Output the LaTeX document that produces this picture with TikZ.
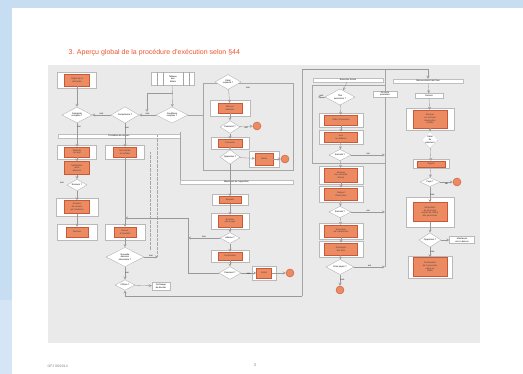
\documentclass[tikz,border=0pt]{standalone}
\usepackage{fontspec}
\setmainfont{Liberation Sans}
\usetikzlibrary{shapes,arrows,positioning}
\definecolor{bgblue}{HTML}{C7DDF1}
\definecolor{panel}{HTML}{EAEAEA}
\definecolor{boxor}{HTML}{EC8A62}
\definecolor{boxline}{HTML}{C8583A}
\definecolor{titlered}{HTML}{EA5530}
\newcommand{\tinytxt}{\fontsize{2.2}{2.6}\selectfont}

\begin{document}
\begin{tikzpicture}[x=1pt,y=-1pt,
    obox/.style={rectangle,draw=boxline,fill=boxor,text=black!75,align=center,inner sep=0.3pt,line width=0.3pt,font=\tinytxt},
    frame/.style={rectangle,draw=gray!55,fill=white,line width=0.3pt,inner sep=0pt},
    dec/.style={diamond,draw=gray!70,fill=white,align=center,inner sep=0pt,line width=0.3pt,font=\tinytxt},
    term/.style={circle,fill=boxor,draw=boxline,minimum size=8pt,inner sep=0pt},
    band/.style={rectangle,draw=gray!50,fill=white,inner sep=0pt,minimum height=4pt,font=\tinytxt},
    lbl/.style={font=\tinytxt,inner sep=0.5pt},
    arrow/.style={->,>=stealth,draw=gray!80,line width=0.35pt},
    link/.style={draw=gray!70,line width=0.3pt}]
    \useasboundingbox (0,0) rectangle (523,374);
    % page and panel
    \fill[bgblue] (0,0) rectangle (523,374);
    \fill[bgblue!75] (0,300) rectangle (12,374);
    \fill[white] (12,8) rectangle (523,374);
    \fill[panel] (48,65) rectangle (480,343);
    \node[font=\fontsize{7}{8}\selectfont,text=titlered,anchor=west] (title) at (65,53) {3. Aperçu global de la procédure d'exécution selon §44};
    \node[font=\fontsize{3.5}{4}\selectfont,text=gray,anchor=west] (foot) at (44,366) {OFJ 08/2014};
    \node[font=\fontsize{4}{5}\selectfont,text=gray] (pnum) at (255,365) {3};

    % left part
    \node[frame,minimum width=39pt,minimum height=16pt] (startf) at (77,80) {};
    \node[obox,minimum width=25pt,minimum height=12pt] (start) at (77,80) {Dépôt de la\\demande};
    \node[frame,minimum width=43pt,minimum height=13pt] (tab) at (173,79) {};
    \node[lbl,align=center] (tabtxt) at (173,79) {Tableau\\des\\délais};
    \draw[link] ([xshift=-16pt]tab.north) -- ([xshift=-16pt]tab.south);
    \draw[link] ([xshift=-10pt]tab.north) -- ([xshift=-10pt]tab.south);
    \draw[link] ([xshift=10pt]tab.north) -- ([xshift=10pt]tab.south);
    \draw[link] ([xshift=16pt]tab.north) -- ([xshift=16pt]tab.south);
    \node[dec,minimum width=30pt,minimum height=16pt] (d1) at (77,115) {Demande\\complète ?};
    \node[dec,minimum width=28pt,minimum height=14pt] (d2) at (125,115) {Compétence ?};
    \node[dec,minimum width=32pt,minimum height=16pt] (d3) at (172,115) {Conditions\\remplies ?};
    \node[band,minimum width=122pt] (band1) at (119,136) {Procédure de recours};
    \node[frame,minimum width=39pt,minimum height=14pt] (l1f) at (77,152) {};
    \node[obox,minimum width=25pt,minimum height=10pt] (l1) at (77,152) {Décision\\de rejet};
    \node[frame,minimum width=39pt,minimum height=14pt] (m1f) at (125,152) {};
    \node[obox,minimum width=23pt,minimum height=10pt] (m1) at (125,152) {Non-entrée\\en matière};
    \node[obox,minimum width=25pt,minimum height=13pt] (l2) at (77,168) {Notification\\de la\\décision};
    \node[dec,minimum width=20pt,minimum height=10pt] (d4) at (77,185) {Recours ?};
    \node[frame,minimum width=42pt,minimum height=18pt] (l3f) at (77,207) {};
    \node[obox,minimum width=25pt,minimum height=13pt] (l3) at (77,207) {Examen\\du recours\\par l'instance};
    \node[frame,minimum width=40pt,minimum height=16pt] (l4f) at (77,232) {};
    \node[obox,minimum width=22pt,minimum height=10pt] (l4) at (77,232) {Décision};
    \node[frame,minimum width=40pt,minimum height=16pt] (m4f) at (125,232) {};
    \node[obox,minimum width=22pt,minimum height=10pt] (m4) at (125,232) {Renvoi\\à l'autorité};
    \node[dec,minimum width=38pt,minimum height=18pt] (d5) at (125,257) {Nouvelle\\décision\\nécessaire ?};
    \node[dec,minimum width=20pt,minimum height=8pt] (d6) at (125,285) {Clôture ?};
    \node[frame,minimum width=18pt,minimum height=8pt,font=\tinytxt,align=center] (wb1) at (161,286) {Archivage\\du dossier};
    \draw[arrow] (start) -- (d1);
    \draw[arrow] (d2) -- node[lbl,above] {non} (d1);
    \draw[arrow] (d3) -- node[lbl,above] {non} (d2);
    \draw[arrow] (tab) -- (d3);
    \coordinate (c1) at (147,93);
    \coordinate (c2) at (147,112);
    \draw[arrow] (tab.south |- c1) -- (c1) -- (c2);
    \draw[arrow] (d1) -- node[lbl,right,pos=0.15] {oui} (l1);
    \draw[arrow] (l1) -- (l2);
    \draw[arrow] (l2) -- (d4);
    \draw[arrow] (d4) -- (l3);
    \draw[arrow] (l3) -- (l4);
    \node[lbl] (d4no) at (62,183) {non};
    \draw[arrow] (d2) -- node[lbl,right,pos=0.2] {oui} (m1);
    \draw[arrow] (m1) -- (m4);
    \draw[arrow] (m4) -- (d5);
    \draw[arrow] (d5) -- node[lbl,right] {oui} (d6);
    \draw[arrow] (d6) -- (wb1);
    \coordinate (d5out) at (158,257);
    \draw[arrow] (d5.east) -- node[lbl,above] {non} (d5out);
    \draw[link,densely dotted] (150,152) -- (150,250);
    \draw[link,densely dotted] (157,135) -- (157,257);

    % middle part
    \coordinate (g1nw) at (203,83);
    \draw[link] (g1nw) rectangle (293,170);
    \draw[link] (180,132) -- (180,182);
    \node[dec,minimum width=26pt,minimum height=12pt] (dm1) at (228,82) {Délai\\respecté ?};
    \node[frame,minimum width=40pt,minimum height=16pt] (mm1f) at (230,108) {};
    \node[obox,minimum width=24pt,minimum height=10pt] (mm1) at (230,108) {Mise en\\demeure};
    \node[dec,minimum width=20pt,minimum height=9pt] (dm2) at (230,127) {Paiement ?};
    \node[term] (t1) at (257,126) {};
    \node[frame,minimum width=38pt,minimum height=12pt] (mm2f) at (230,143) {};
    \node[obox,minimum width=24pt,minimum height=8pt] (mm2) at (230,143) {Poursuite};
    \node[dec,minimum width=20pt,minimum height=9pt] (dm3) at (230,157) {Opposition ?};
    \node[frame,minimum width=30pt,minimum height=16pt] (mm3f) at (264,159) {};
    \node[obox,minimum width=18pt,minimum height=12pt] (mm3) at (264,159) {Saisie};
    \node[term] (t2) at (285,159) {};
    \node[band,minimum width=113pt] (band2) at (236.5,182) {Mainlevée de l'opposition};
    \node[frame,minimum width=36pt,minimum height=11pt] (mm4f) at (230,200) {};
    \node[obox,minimum width=22pt,minimum height=7pt] (mm4) at (230,200) {Requête};
    \node[frame,minimum width=38pt,minimum height=16pt] (mm5f) at (230,221) {};
    \node[obox,minimum width=24pt,minimum height=12pt] (mm5) at (230,221) {Examen\\par le juge};
    \node[dec,minimum width=20pt,minimum height=9pt] (dm4) at (230,238) {Admise ?};
    \node[frame,minimum width=38pt,minimum height=12pt] (mm6f) at (230,256) {};
    \node[obox,minimum width=24pt,minimum height=8pt] (mm6) at (230,256) {Continuation};
    \node[dec,minimum width=22pt,minimum height=9pt] (dm5) at (230,273) {Paiement ?};
    \node[frame,minimum width=24pt,minimum height=14pt] (mm7f) at (264,273) {};
    \node[obox,minimum width=15pt,minimum height=10pt] (mm7) at (264,273) {Vente};
    \node[term] (t3) at (290,273) {};
    \draw[link] (d3.east) -| (g1nw);
    \draw[arrow] (dm1) -- (mm1);
    \node[lbl] (dm1no) at (248,88) {non};
    \draw[arrow] (mm1) -- (dm2);
    \draw[arrow] (dm2) -- node[lbl,below] {oui} (t1);
    \draw[arrow] (dm2) -- (mm2);
    \draw[arrow] (mm2) -- (dm3);
    \draw[arrow] (dm3) -- (mm3);
    \draw[arrow] (mm3) -- (t2);
    \draw[arrow] (dm3) -- (mm4);
    \draw[arrow] (mm4) -- (mm5);
    \draw[arrow] (mm5) -- (dm4);
    \draw[arrow] (dm4) -- (mm6);
    \draw[arrow] (mm6) -- (dm5);
    \draw[arrow] (dm5) -- node[lbl,below] {non} (mm7);
    \draw[arrow] (mm7) -- (t3);
    \coordinate (c4) at (188,218);
    \draw[arrow] (dm5.west) -| (c4) -- (m4.north |- c4);
    \draw[arrow] (dm4.west) -- node[lbl,above] {non} (dm4.west -| c4);

    % right part, first column
    \coordinate (c5) at (302,296);
    \coordinate (c6) at (302,69);
    \coordinate (c7) at (428,69);
    \draw[link] (c5) -- (c6);
    \draw[arrow] (c5) -- (d6.south |- c5) -- (d6.south);
    \node[band,minimum width=70pt] (h1) at (348,80) {Exécution forcée};
    \draw[link] (312,85) rectangle (385,163);
    \node[dec,minimum width=30pt,minimum height=14pt] (dr1) at (340,97) {Titre\\exécutoire ?};
    \node[frame,minimum width=44pt,minimum height=14pt] (r1f) at (341,120) {};
    \node[obox,minimum width=33pt,minimum height=10pt] (r1) at (341,120) {Ordre d'exécution};
    \node[frame,minimum width=44pt,minimum height=14pt] (r2f) at (341,137) {};
    \node[obox,minimum width=33pt,minimum height=10pt] (r2) at (341,137) {Avis\\au débiteur};
    \node[dec,minimum width=22pt,minimum height=9pt] (dr2) at (340,155) {Exécuté ?};
    \node[frame,minimum width=44pt,minimum height=18pt] (r3f) at (341,175) {};
    \node[obox,minimum width=33pt,minimum height=14pt] (r3) at (341,175) {Mesures\\de contrainte\\directe};
    \node[frame,minimum width=44pt,minimum height=16pt] (r4f) at (341,194) {};
    \node[obox,minimum width=33pt,minimum height=12pt] (r4) at (341,194) {Rapport\\d'exécution};
    \node[dec,minimum width=22pt,minimum height=9pt] (dr3) at (340,212) {Exécuté ?};
    \node[frame,minimum width=44pt,minimum height=16pt] (r5f) at (341,231) {};
    \node[obox,minimum width=33pt,minimum height=12pt] (r5) at (341,231) {Exécution\\par substitution};
    \node[frame,minimum width=44pt,minimum height=16pt] (r6f) at (341,249) {};
    \node[obox,minimum width=33pt,minimum height=12pt] (r6) at (341,249) {Décompte\\des frais};
    \node[dec,minimum width=28pt,minimum height=12pt] (dr4) at (340,267) {Frais payés ?};
    \node[term] (t4) at (340,290) {};
    \node[frame,minimum width=24pt,minimum height=6pt,font=\tinytxt,align=center] (wb2) at (385,94) {Fin de la\\procédure};
    \coordinate (c8) at (385,69);
    \coordinate (c9) at (385,267);
    \draw[arrow] (h1) -- (dr1);
    \coordinate (dr1out) at (318,97);
    \draw[arrow] (dr1.west) -- node[lbl,above] {non} (dr1out);
    \draw[arrow] (dr1) -- (r1);
    \draw[arrow] (r1) -- (r2);
    \draw[arrow] (r2) -- (dr2);
    \draw[arrow] (dr2) -- (r3);
    \draw[arrow] (r3) -- (r4);
    \draw[arrow] (r4) -- (dr3);
    \draw[arrow] (dr3) -- (r5);
    \draw[arrow] (r5) -- (r6);
    \draw[arrow] (r6) -- (dr4);
    \draw[arrow] (dr4) -- node[lbl,right] {non} (t4);
    \draw[link] (c8) -- (wb2);
    \draw[link] (wb2) -- (c9);
    \draw[arrow] (dr2.east) -- node[lbl,above] {oui} (dr2.east -| c9);
    \draw[arrow] (dr3.east) -- node[lbl,above] {oui} (dr3.east -| c9);
    \draw[arrow] (dr4.east) -- node[lbl,above] {oui} (dr4.east -| c9);

    % right part, second column
    \node[band,minimum width=70pt] (h2) at (428,81) {Recouvrement des frais};
    \draw[arrow] (c6) -- (c7) -- (h2.north);
    \node[frame,minimum width=28pt,minimum height=5pt,font=\tinytxt] (wb3) at (429,96) {Facture};
    \node[frame,minimum width=48pt,minimum height=22pt] (r7f) at (430,119) {};
    \node[obox,minimum width=34pt,minimum height=18pt] (r7) at (430,119) {Décision\\sur les frais\\d'exécution\\notifiée};
    \node[diamond,draw=gray!70,densely dotted,fill=white,minimum width=14pt,minimum height=16pt,inner sep=0pt,font=\tinytxt,align=center] (dr5) at (430,140) {Délai\\de\\paiement};
    \node[frame,minimum width=36pt,minimum height=9pt] (r8f) at (431,164) {};
    \node[obox,minimum width=28pt,minimum height=6pt] (r8) at (431,164) {Rappel};
    \node[dec,minimum width=20pt,minimum height=9pt] (dr6) at (430,182) {Payé ?};
    \node[term] (t5) at (457,182) {};
    \node[frame,minimum width=48pt,minimum height=30pt] (r9f) at (430,212) {};
    \node[obox,minimum width=34pt,minimum height=19pt] (r9) at (430,212) {Réquisition\\de poursuite\\auprès de l'office\\des poursuites};
    \node[dec,minimum width=22pt,minimum height=9pt] (dr7) at (430,240) {Opposition ?};
    \node[frame,minimum width=25pt,minimum height=7pt,font=\tinytxt,align=center] (wb4) at (462,240) {Mainlevée\\voir ci-dessus};
    \node[frame,minimum width=44pt,minimum height=22pt] (r10f) at (430,267) {};
    \node[obox,minimum width=34pt,minimum height=19pt] (r10) at (430,267) {Continuation\\de la poursuite\\saisie ou\\faillite};
    \draw[arrow] (h2) -- (wb3);
    \draw[arrow] (wb3) -- (r7);
    \draw[arrow] (r7) -- (dr5);
    \draw[arrow] (dr5) -- (r8);
    \draw[arrow] (r8) -- (dr6);
    \draw[arrow] (dr6) -- node[lbl,below] {oui} (t5);
    \draw[arrow] (dr6) -- node[lbl,right] {non} (r9);
    \draw[arrow] (r9) -- (dr7);
    \draw[arrow] (dr7) -- (wb4);
    \draw[arrow] (dr7) -- node[lbl,right] {non} (r10);
\end{tikzpicture}
\end{document}
